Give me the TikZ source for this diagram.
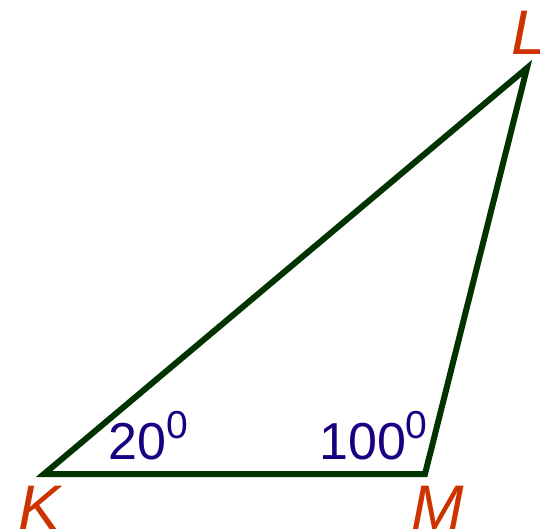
\documentclass[tikz,border=0pt]{standalone}
\usepackage{fontspec}
\setmainfont{Liberation Sans}
\definecolor{edgegreen}{RGB}{0,51,0}
\definecolor{vlabel}{RGB}{204,51,0}
\definecolor{alabel}{RGB}{26,0,128}
\newcommand{\supz}{{\fontsize{39}{39}\selectfont\raisebox{21pt}{0}}}
\begin{document}
\begin{tikzpicture}[x=1pt,y=1pt,
  vert/.style={text=vlabel,font=\fontsize{63}{63}\selectfont\itshape,inner sep=0pt,anchor=base},
  ang/.style={text=alabel,font=\fontsize{52}{52}\selectfont,inner sep=0pt,anchor=base west},
  side/.style={draw=edgegreen,line width=6pt,line join=miter}]
\useasboundingbox (0,0) rectangle (540,531);
\coordinate (K) at (44,57);
\coordinate (M) at (425,57);
\coordinate (L) at (527,463);
\draw[side] (K) -- (M) -- (L) -- cycle;
\node[vert] (lK) at (40,2) {K};
\node[vert] (lM) at (438,2) {M};
\node[vert] (lL) at (529,476) {L};
\node[ang] (aK) at (108,72) {20\supz};
\node[ang] (aM) at (319,72) {100\supz};
\end{tikzpicture}
\end{document}
